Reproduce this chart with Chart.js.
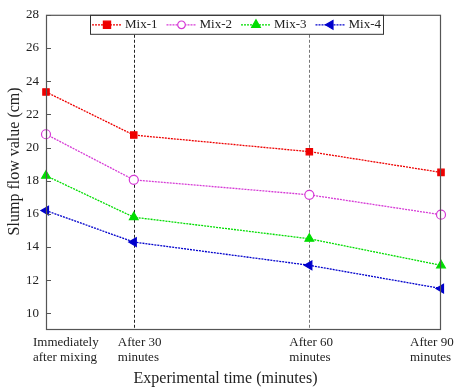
<!DOCTYPE html>
<html>
<head>
<meta charset="utf-8">
<script src="https://cdn.jsdelivr.net/npm/chart.js@4/dist/chart.umd.min.js"></script>
<style>
  html, body { margin: 0; padding: 0; background: #fff; }
</style>
</head>
<body>
<canvas id="slumpChart" width="455" height="391"></canvas>
<script>
// Data
const timePoints = [0, 20, 60, 90];
const timeLabels = [
    ['Immediately', 'after mixing'],
    ['After 30', 'minutes'],
    ['After 60', 'minutes'],
    ['After 90', 'minutes']
];
const seriesNames = ['Mix-1', 'Mix-2', 'Mix-3', 'Mix-4'];
const mix1 = [23.35, 20.75, 19.75, 18.5];
const mix2 = [20.8, 18.05, 17.15, 15.95];
const mix3 = [18.3, 15.8, 14.5, 12.9];
const mix4 = [16.2, 14.3, 12.9, 11.5];
const yTicks = [10, 12, 14, 16, 18, 20, 22, 24, 26, 28];

const serif = "'Liberation Serif', 'DejaVu Serif', serif";
const labelOffsets = [-13, -16, -20, -31];

const styles = [
    { color: '#ee0000', fill: '#ee0000', point: 'rect', radius: 4.5, rot: 0 },
    { color: '#d63ad6', fill: '#ffffff', point: 'circle', radius: 4.5, rot: 0 },
    { color: '#00dd00', fill: '#00dd00', point: 'triangle', radius: 5, rot: 0 },
    { color: '#0000cc', fill: '#0000cc', point: 'triangle', radius: 5, rot: -90 }
];

function makeSet(name, values, s) {
    return {
        label: name,
        data: values.map((v, i) => ({ x: timePoints[i], y: v })),
        borderColor: s.color,
        backgroundColor: s.fill,
        borderWidth: 1.3,
        borderDash: [2, 1],
        pointStyle: s.point,
        pointRadius: s.radius,
        pointRotation: s.rot,
        pointBorderWidth: 1.2,
        pointBorderColor: s.color,
        pointBackgroundColor: s.fill,
        tension: 0,
        clip: false
    };
}

function marker(ctx, s, cx, cy) {
    ctx.save();
    ctx.translate(cx, cy);
    ctx.rotate(s.rot * Math.PI / 180);
    ctx.fillStyle = s.fill;
    ctx.strokeStyle = s.color;
    ctx.lineWidth = 1.2;
    ctx.setLineDash([]);
    const r = s.radius;
    ctx.beginPath();
    if (s.point === 'rect') {
        ctx.rect(-r * 0.8, -r * 0.8, r * 1.6, r * 1.6);
    } else if (s.point === 'circle') {
        ctx.arc(0, 0, r * 0.85, 0, Math.PI * 2);
    } else {
        ctx.moveTo(0, -r);
        ctx.lineTo(r * 0.87, r * 0.5);
        ctx.lineTo(-r * 0.87, r * 0.5);
        ctx.closePath();
    }
    ctx.fill();
    ctx.stroke();
    ctx.restore();
}

const decorations = {
    id: 'decorations',
    beforeDatasetsDraw(chart) {
        const { ctx, chartArea: a, scales: { x } } = chart;
        ctx.save();
        ctx.lineWidth = 1;
        ctx.setLineDash([3, 2]);
        [timePoints[1], timePoints[2]].forEach((t, i) => {
            const px = Math.round(x.getPixelForValue(t)) + 0.5;
            ctx.strokeStyle = i ? '#777' : '#222';
            ctx.beginPath();
            ctx.moveTo(px, a.top + 20);
            ctx.lineTo(px, a.bottom);
            ctx.stroke();
        });
        ctx.restore();
    },
    afterDraw(chart) {
        const { ctx, chartArea: a, scales: { x, y } } = chart;
        ctx.save();

        // frame
        ctx.strokeStyle = '#555';
        ctx.lineWidth = 1.2;
        ctx.strokeRect(a.left + 0.5, a.top + 0.5, a.width - 1, a.height - 1);

        // inward y ticks
        ctx.lineWidth = 1;
        yTicks.forEach(v => {
            const py = Math.round(y.getPixelForValue(v)) + 0.5;
            ctx.beginPath();
            ctx.moveTo(a.left, py);
            ctx.lineTo(a.left + 5, py);
            ctx.stroke();
        });

        // x category labels
        ctx.fillStyle = '#222';
        ctx.font = '13px ' + serif;
        ctx.textAlign = 'left';
        ctx.textBaseline = 'middle';
        timeLabels.forEach((lines, i) => {
            const px = x.getPixelForValue(timePoints[i]) + labelOffsets[i];
            lines.forEach((t, j) => ctx.fillText(t, px, a.bottom + 13 + j * 15));
        });

        // axis titles
        ctx.font = '16px ' + serif;
        ctx.textAlign = 'center';
        ctx.fillText('Experimental time (minutes)', a.left + a.width / 2 - 18, 379);
        ctx.save();
        ctx.translate(15, a.top + a.height / 2 - 11);
        ctx.rotate(-Math.PI / 2);
        ctx.fillText('Slump flow value (cm)', 0, 0);
        ctx.restore();

        // legend box
        ctx.font = '13px ' + serif;
        let lx = a.left + 44;
        const top = a.top, h = 19, cy = top + h / 2 + 0.5;
        const start = lx;
        seriesNames.forEach((name, i) => {
            const s = styles[i];
            ctx.strokeStyle = s.color;
            ctx.lineWidth = 1.2;
            ctx.setLineDash([2, 1]);
            ctx.beginPath();
            ctx.moveTo(lx + 2, cy);
            ctx.lineTo(lx + 32, cy);
            ctx.stroke();
            marker(ctx, s, lx + 17, cy);
            ctx.fillStyle = '#222';
            ctx.textAlign = 'left';
            ctx.fillText(name, lx + 35, cy);
            lx += 35 + ctx.measureText(name).width + 7;
        });
        ctx.setLineDash([]);
        ctx.strokeStyle = '#333';
        ctx.lineWidth = 1;
        ctx.strokeRect(start + 0.5, top + 0.5, lx - start - 5, h);
        ctx.restore();
    }
};

new Chart(document.getElementById('slumpChart').getContext('2d'), {
    type: 'line',
    data: {
        datasets: seriesNames.map((n, i) => makeSet(n, [mix1, mix2, mix3, mix4][i], styles[i]))
    },
    options: {
        responsive: false,
        animation: false,
        layout: { padding: { top: 12, right: 14, left: 0, bottom: 0 } },
        plugins: {
            legend: { display: false },
            tooltip: { enabled: false }
        },
        scales: {
            x: {
                type: 'linear',
                min: 0,
                max: 90,
                grid: { display: false },
                border: { display: false },
                ticks: { display: false },
                afterFit: s => { s.height = 61; }
            },
            y: {
                min: 9,
                max: 28,
                grid: { display: false, drawTicks: false },
                border: { display: false },
                afterBuildTicks: s => { s.ticks = yTicks.map(v => ({ value: v })); },
                ticks: {
                    padding: 7,
                    color: '#222',
                    font: { family: serif, size: 13 }
                },
                afterFit: s => { s.width = 46; }
            }
        }
    },
    plugins: [decorations]
});
</script>
</body>
</html>
